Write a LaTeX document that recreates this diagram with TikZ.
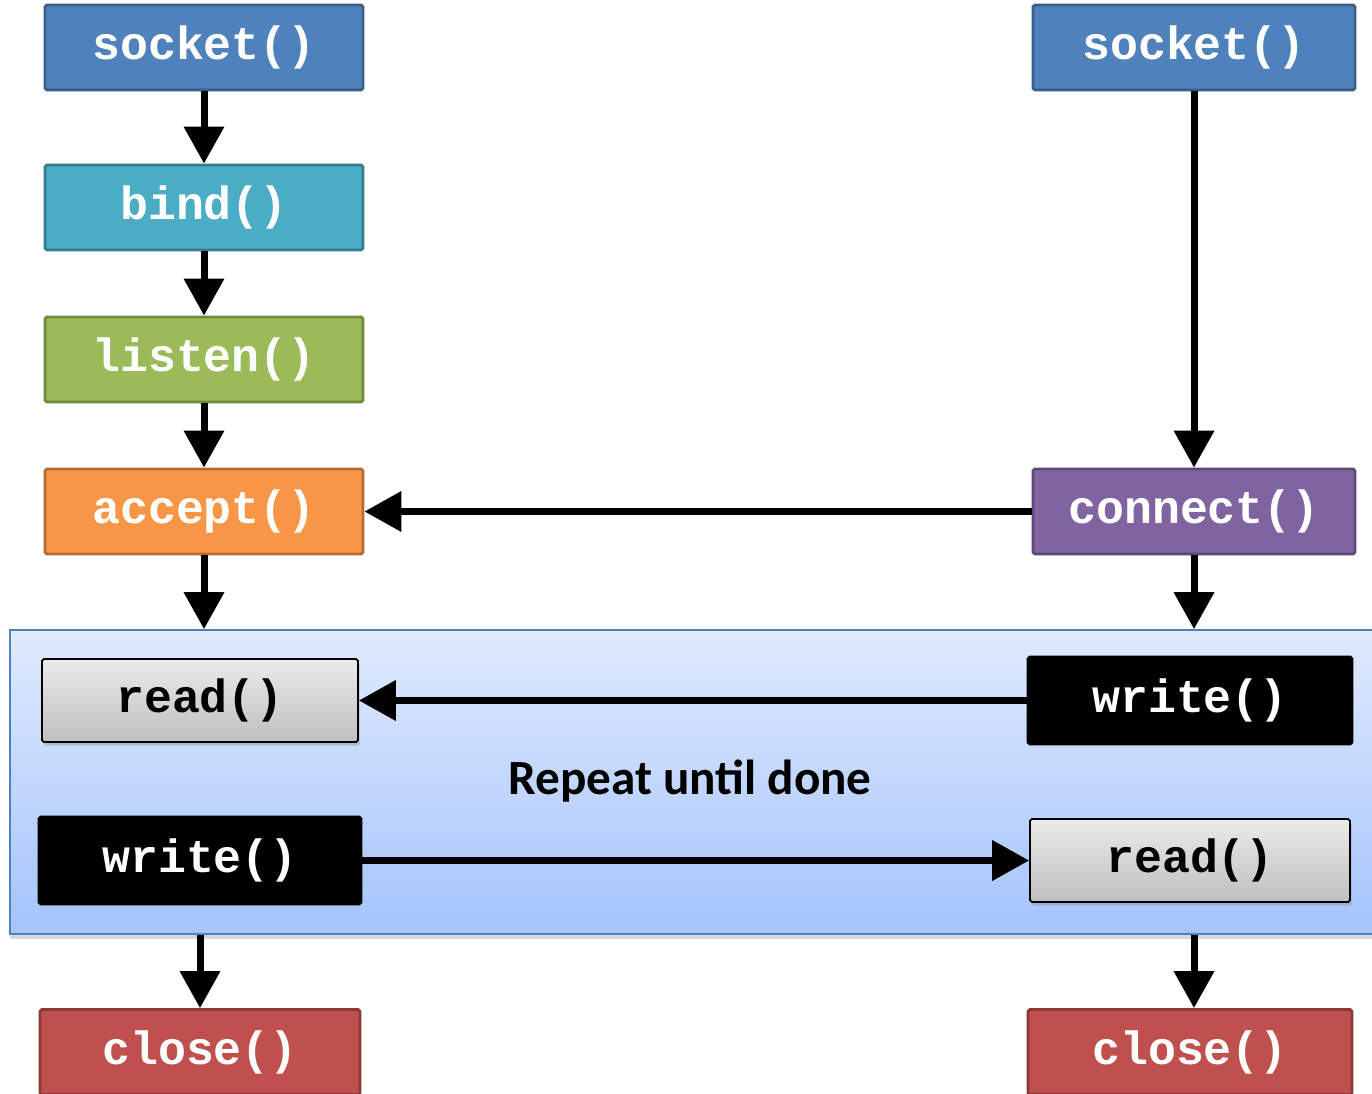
\documentclass[tikz,border=0pt]{standalone}
\usepackage{fontspec}
\setmainfont{Carlito}
\setmonofont{Liberation Mono}
\usetikzlibrary{arrows.meta,shadows}

\definecolor{sockfill}{HTML}{4F81BD}
\definecolor{sockline}{HTML}{385D8A}
\definecolor{bindfill}{HTML}{4BACC6}
\definecolor{bindline}{HTML}{357D91}
\definecolor{listenfill}{HTML}{9BBB59}
\definecolor{listenline}{HTML}{71893F}
\definecolor{acceptfill}{HTML}{F79646}
\definecolor{acceptline}{HTML}{B66D31}
\definecolor{connfill}{HTML}{8064A2}
\definecolor{connline}{HTML}{5C4776}
\definecolor{closefill}{HTML}{C0504D}
\definecolor{closeline}{HTML}{8C3836}
\definecolor{looptop}{HTML}{E0EAFD}
\definecolor{loopbot}{HTML}{A4C4FC}
\definecolor{loopline}{HTML}{4F81BD}

\tikzset{
  fn/.style={draw, line width=1.6pt, rounded corners=1pt, minimum width=6.36cm,
    minimum height=1.7cm, inner sep=0pt, text=white,
    font=\fontsize{26.5}{30}\selectfont\ttfamily\bfseries},
  rdbox/.style={fn, draw=black, line width=1pt, text=black, top color=black!8,
    bottom color=black!25, drop shadow={opacity=0.35, shadow xshift=1pt, shadow yshift=-2pt}},
  wrbox/.style={fn, draw=black, fill=black, minimum width=6.44cm, minimum height=1.74cm},
  arr/.style={line width=0.14cm, -{Triangle[width=0.78cm,length=0.74cm]}}
}

\begin{document}
\begin{tikzpicture}[x=0.02cm,y=-0.02cm]
\useasboundingbox (0,0) rectangle (1372,1094);
% loop area
\node[draw=loopline, line width=1pt, top color=looptop, bottom color=loopbot,
  minimum width=27.5cm, minimum height=6.08cm, inner sep=0pt,
  drop shadow={opacity=0.3, shadow xshift=0pt, shadow yshift=-3pt}] (loop) at (697,782) {};
\node[font=\fontsize{28}{34}\selectfont\bfseries] (repeat) at (690,781) {Repeat until done};
% server side
\node[fn, fill=sockfill, draw=sockline] (sockL) at (204,47.5) {socket()};
\node[fn, fill=bindfill, draw=bindline] (bind) at (204,207.5) {bind()};
\node[fn, fill=listenfill, draw=listenline] (listen) at (204,359.5) {listen()};
\node[fn, fill=acceptfill, draw=acceptline] (accept) at (204,511.5) {accept()};
\node[rdbox, minimum width=6.32cm, minimum height=1.66cm] (readL) at (200,700.5) {read()};
\node[wrbox] (writeL) at (200,860.5) {write()};
\node[fn, fill=closefill, draw=closeline, minimum width=6.4cm] (closeL) at (200,1052) {close()};
% client side
\node[fn, fill=sockfill, draw=sockline, minimum width=6.44cm] (sockR) at (1194,47.5) {socket()};
\node[fn, fill=connfill, draw=connline, minimum width=6.44cm] (connect) at (1194,511.5) {connect()};
\node[wrbox, minimum width=6.48cm] (writeR) at (1190,700.5) {write()};
\node[rdbox, minimum width=6.4cm, minimum height=1.66cm] (readR) at (1190,860.5) {read()};
\node[fn, fill=closefill, draw=closeline, minimum width=6.48cm] (closeR) at (1190,1052) {close()};
% arrows
\draw[arr] (sockL) -- (bind);
\draw[arr] (bind) -- (listen);
\draw[arr] (listen) -- (accept);
\draw[arr] (accept) -- (accept |- loop.north);
\draw[arr] (sockR) -- (connect);
\draw[arr] (connect) -- (accept);
\draw[arr] (connect) -- (connect |- loop.north);
\draw[arr] (writeR) -- (readL);
\draw[arr] (writeL) -- (readR);
\draw[arr] (loop.south -| closeL) -- (closeL);
\draw[arr] (loop.south -| connect) -- (connect |- closeR.north);
\end{tikzpicture}
\end{document}
